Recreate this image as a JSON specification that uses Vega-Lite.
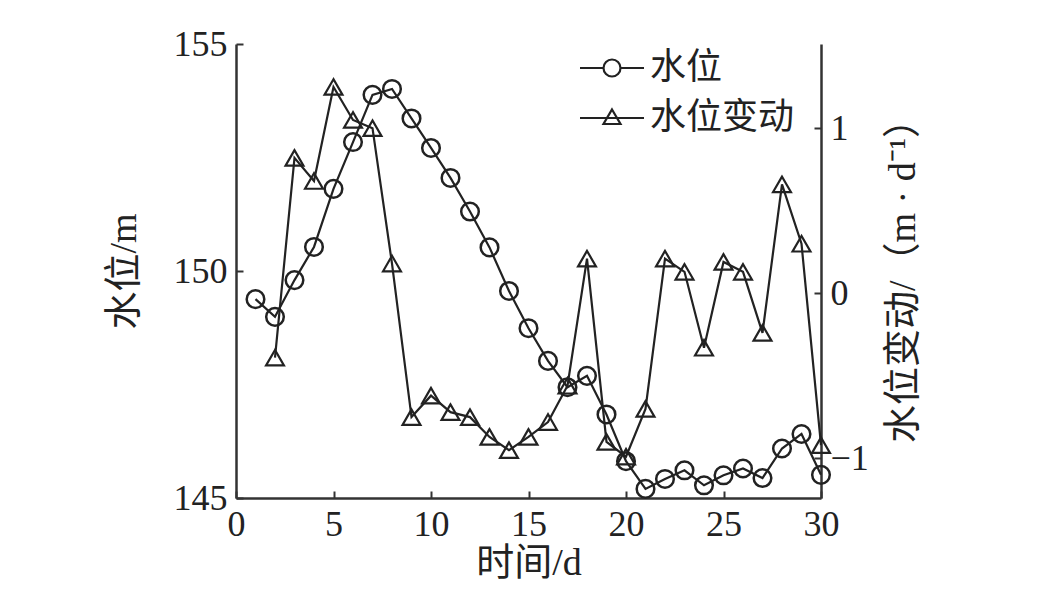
{
  "$schema": "https://vega.github.io/schema/vega-lite/v6.json",
  "width": 585,
  "height": 454,
  "autosize": {"type": "none"},
  "padding": {"left": 236, "top": 44, "right": 223, "bottom": 106},
  "background": "white",
  "config": {
    "view": {"stroke": null},
    "axis": {
      "grid": false,
      "domainColor": "#333",
      "domainWidth": 2.5,
      "tickColor": "#333",
      "tickWidth": 2,
      "tickSize": -7,
      "labelFont": "Liberation Serif",
      "labelFontSize": 36,
      "labelColor": "#222",
      "labelOverlap": false,
      "titleFont": "Liberation Serif, Noto Sans CJK SC",
      "titleFontSize": 38,
      "titleFontWeight": "normal",
      "titleColor": "#222"
    },
    "legend": {
      "title": null,
      "orient": "none",
      "padding": 0,
      "symbolSize": 400,
      "symbolStrokeWidth": 2.2,
      "symbolFillColor": "transparent",
      "labelOffset": 20,
      "labelFont": "Noto Sans CJK SC",
      "labelFontSize": 36,
      "labelColor": "#222"
    }
  },
  "data": {
    "values": [
      {"day": 1, "level": 149.38, "change": null},
      {"day": 2, "level": 148.99, "change": -0.39},
      {"day": 3, "level": 149.80, "change": 0.82},
      {"day": 4, "level": 150.53, "change": 0.68},
      {"day": 5, "level": 151.81, "change": 1.25},
      {"day": 6, "level": 152.84, "change": 1.05},
      {"day": 7, "level": 153.88, "change": 1.00},
      {"day": 8, "level": 154.01, "change": 0.18},
      {"day": 9, "level": 153.36, "change": -0.75},
      {"day": 10, "level": 152.71, "change": -0.62},
      {"day": 11, "level": 152.05, "change": -0.72},
      {"day": 12, "level": 151.31, "change": -0.75},
      {"day": 13, "level": 150.52, "change": -0.87},
      {"day": 14, "level": 149.56, "change": -0.95},
      {"day": 15, "level": 148.74, "change": -0.87},
      {"day": 16, "level": 148.02, "change": -0.78},
      {"day": 17, "level": 147.44, "change": -0.56},
      {"day": 18, "level": 147.69, "change": 0.21},
      {"day": 19, "level": 146.84, "change": -0.90},
      {"day": 20, "level": 145.81, "change": -0.99},
      {"day": 21, "level": 145.20, "change": -0.70},
      {"day": 22, "level": 145.42, "change": 0.21},
      {"day": 23, "level": 145.61, "change": 0.13},
      {"day": 24, "level": 145.28, "change": -0.33},
      {"day": 25, "level": 145.50, "change": 0.19},
      {"day": 26, "level": 145.65, "change": 0.13},
      {"day": 27, "level": 145.44, "change": -0.24},
      {"day": 28, "level": 146.09, "change": 0.66},
      {"day": 29, "level": 146.41, "change": 0.30},
      {"day": 30, "level": 145.51, "change": -0.92}
    ]
  },
  "encoding": {
    "x": {
      "field": "day",
      "type": "quantitative",
      "scale": {"domain": [0, 30], "nice": false},
      "axis": {"title": "时间/d", "values": [0, 5, 10, 15, 20, 25, 30], "labelPadding": 16, "titlePadding": 2, "labelFlush": false}
    }
  },
  "layer": [
    {
      "layer": [
        {
          "mark": {"type": "line", "strokeWidth": 2.2},
          "encoding": {
            "y": {
              "field": "level",
              "type": "quantitative",
              "scale": {"domain": [145, 155], "nice": false, "zero": false},
              "axis": {"title": "水位/m", "values": [145, 150, 155], "labelPadding": 16, "titlePadding": 30, "labelFlush": false}
            },
            "color": {
              "datum": "水位",
              "scale": {"range": ["#222"]},
              "legend": {
                "legendX": 358,
                "legendY": 6,
                "symbolType": "M-3.2,0H-0.85A0.85,0.85,0,1,1,0.85,0A0.85,0.85,0,1,1,-0.85,0M0.85,0H3.2"
              }
            }
          }
        },
        {
          "mark": {"type": "point", "shape": "circle", "filled": false, "color": "#222", "opacity": 1, "strokeWidth": 2.5, "size": 310},
          "encoding": {
            "y": {"field": "level", "type": "quantitative"}
          }
        }
      ]
    },
    {
      "layer": [
        {
          "mark": {"type": "line", "strokeWidth": 2.2},
          "encoding": {
            "y": {
              "field": "change",
              "type": "quantitative",
              "scale": {"domain": [-1.24, 1.51], "nice": false, "zero": false},
              "axis": {"orient": "right", "title": "水位变动/（m · d⁻¹）", "titleAngle": 270, "values": [-1, 0, 1], "format": "d", "labelPadding": 16, "titlePadding": 54, "labelFlush": false}
            },
            "color": {
              "datum": "水位变动",
              "scale": {"range": ["#222"]},
              "legend": {
                "legendX": 358,
                "legendY": 56,
                "symbolType": "M-3.2,0H3.2M0,-0.85L0.85,0.6L-0.85,0.6Z"
              }
            }
          }
        },
        {
          "mark": {"type": "point", "shape": "triangle-up", "filled": false, "color": "#222", "opacity": 1, "strokeWidth": 2.2, "size": 320},
          "encoding": {
            "y": {"field": "change", "type": "quantitative"}
          }
        }
      ]
    }
  ],
  "resolve": {"scale": {"y": "independent", "color": "independent"}, "legend": {"color": "independent"}}
}
